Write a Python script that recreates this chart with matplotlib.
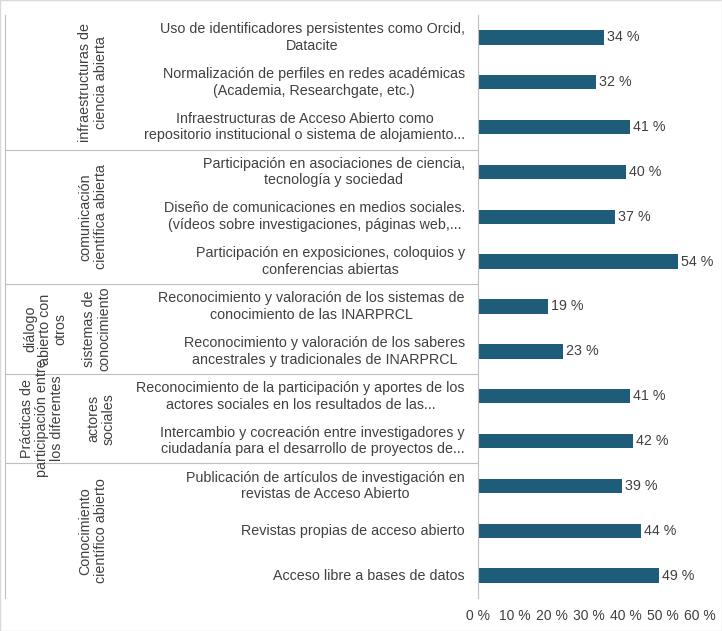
import matplotlib.pyplot as plt
from matplotlib.lines import Line2D

plt.rcParams['font.family'] = ['Liberation Sans', 'DejaVu Sans']

labels = [
    "Uso de identificadores persistentes como Orcid,\nDatacite",
    "Normalización de perfiles en redes académicas\n(Academia, Researchgate, etc.)",
    "Infraestructuras de Acceso Abierto como\nrepositorio institucional o sistema de alojamiento...",
    "Participación en asociaciones de ciencia,\ntecnología y sociedad",
    "Diseño de comunicaciones en medios sociales.\n(vídeos sobre investigaciones, páginas web,...",
    "Participación en exposiciones, coloquios y\nconferencias abiertas",
    "Reconocimiento y valoración de los sistemas de\nconocimiento de las INARPRCL",
    "Reconocimiento y valoración de los saberes\nancestrales y tradicionales de INARPRCL",
    "Reconocimiento de la participación y aportes de los\nactores sociales en los resultados de las...",
    "Intercambio y cocreación entre investigadores y\nciudadanía para el desarrollo de proyectos de...",
    "Publicación de artículos de investigación en\nrevistas de Acceso Abierto",
    "Revistas propias de acceso abierto",
    "Acceso libre a bases de datos",
]
values = [34, 32, 41, 40, 37, 54, 19, 23, 41, 42, 39, 44, 49]
boundaries = [2.5, 5.5, 7.5, 9.5]
# (text, x px, center row)
group_texts = [
    ("infraestructuras de\nciencia abierta", 93, 1),
    ("comunicación\ncientífica abierta", 93, 4),
    ("diálogo\nabierto con\notros", 45, 6.5),
    ("sistemas de\nconocimiento", 97, 6.5),
    ("Prácticas de\nparticipación entre\nlos diferentes", 42, 8.5),
    ("actores\nsociales", 101, 8.5),
    ("Conocimiento\ncientífico abierto", 93, 11),
]

W, H = 722, 631
fig = plt.figure(figsize=(W / 100, H / 100), dpi=100)
ax = fig.add_axes([478 / W, 33 / H, 222 / W, 583 / H])
y = list(range(len(values)))
ax.barh(y, values, height=0.32, color="#1F5C7A")
ax.set_ylim(12.5, -0.5)
ax.set_xlim(0, 60)
ax.set_xticks(range(0, 61, 10))
ax.set_xticklabels([f"{t} %" for t in range(0, 61, 10)], fontsize=10, color="#404040")
ax.set_yticks([])
for s in ["top", "right", "bottom"]:
    ax.spines[s].set_visible(False)
ax.spines["left"].set_color("#BFBFBF")
ax.tick_params(axis="x", length=0, pad=8)

def px_to_ax(px):
    return (px - 478) / 222

for yi, v, lab in zip(y, values, labels):
    ax.text(v + 0.8, yi, f"{v} %", va="center", fontsize=10.3, color="#404040")
    ax.text(px_to_ax(465), yi, lab, va="center", ha="right", linespacing=1.25,
            multialignment="center", fontsize=10.3, color="#404040",
            transform=ax.get_yaxis_transform())

for b in boundaries:
    ax.add_line(Line2D([px_to_ax(5), 0], [b, b], transform=ax.get_yaxis_transform(),
                       color="#BFBFBF", lw=0.8, clip_on=False))
ax.add_line(Line2D([px_to_ax(5)] * 2, [-0.5, 12.5], transform=ax.get_yaxis_transform(),
                   color="#BFBFBF", lw=0.8, clip_on=False))

for t, px, row in group_texts:
    ax.text(px_to_ax(px), row, t, rotation=90, ha="center", va="center", linespacing=1.1,
            multialignment="center", fontsize=10.3, color="#404040",
            transform=ax.get_yaxis_transform())

fig.patches.append(plt.Rectangle((0, 0), 1, 1, transform=fig.transFigure,
                                 fill=False, edgecolor="#D9D9D9", lw=1))
fig.savefig("out.png", dpi=100)
